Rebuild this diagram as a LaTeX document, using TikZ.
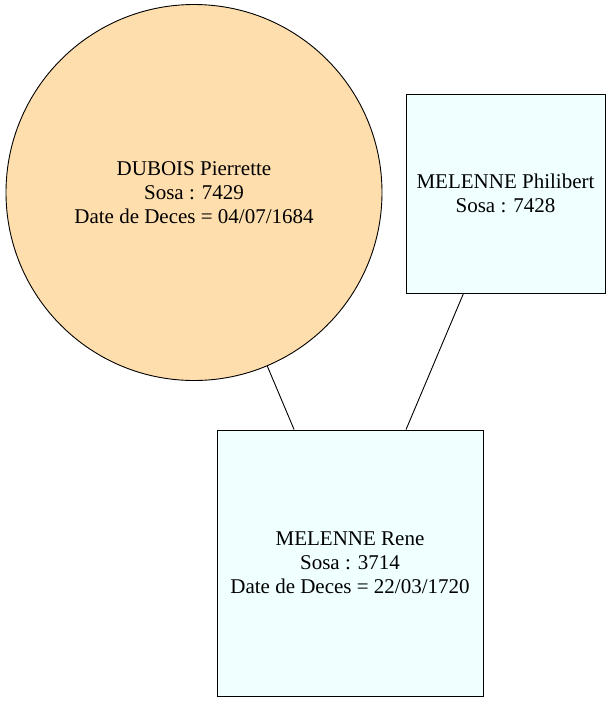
\documentclass[tikz,border=0pt]{standalone}
\usepackage{fontspec}
\setmainfont{Liberation Serif}
\definecolor{navajo}{RGB}{255,222,173}
\definecolor{azurec}{RGB}{240,255,255}
\begin{document}
\begin{tikzpicture}[x=1pt,y=-1pt,
  person/.style={draw=black,line width=0.9pt,align=center,inner sep=0pt,
    font=\fontsize{21}{24}\selectfont},
  circ/.style={person,circle,fill=navajo,minimum size=376pt},
  boxs/.style={person,rectangle,fill=azurec},
  link/.style={draw=black,line width=0.9pt}]
\useasboundingbox (0,0) rectangle (611,702);
\node[circ] (dubois) at (194,192.5) {DUBOIS Pierrette\\Sosa : 7429\\Date de Deces = 04/07/1684};
\node[boxs,minimum width=199pt,minimum height=199pt] (phil) at (505.5,193.5) {MELENNE Philibert\\Sosa : 7428};
\node[boxs,minimum width=266pt,minimum height=266pt] (rene) at (350,563) {MELENNE Rene\\Sosa : 3714\\Date de Deces = 22/03/1720};
\draw[link] (dubois) -- (rene);
\draw[link] (phil) -- (rene);
\end{tikzpicture}
\end{document}
